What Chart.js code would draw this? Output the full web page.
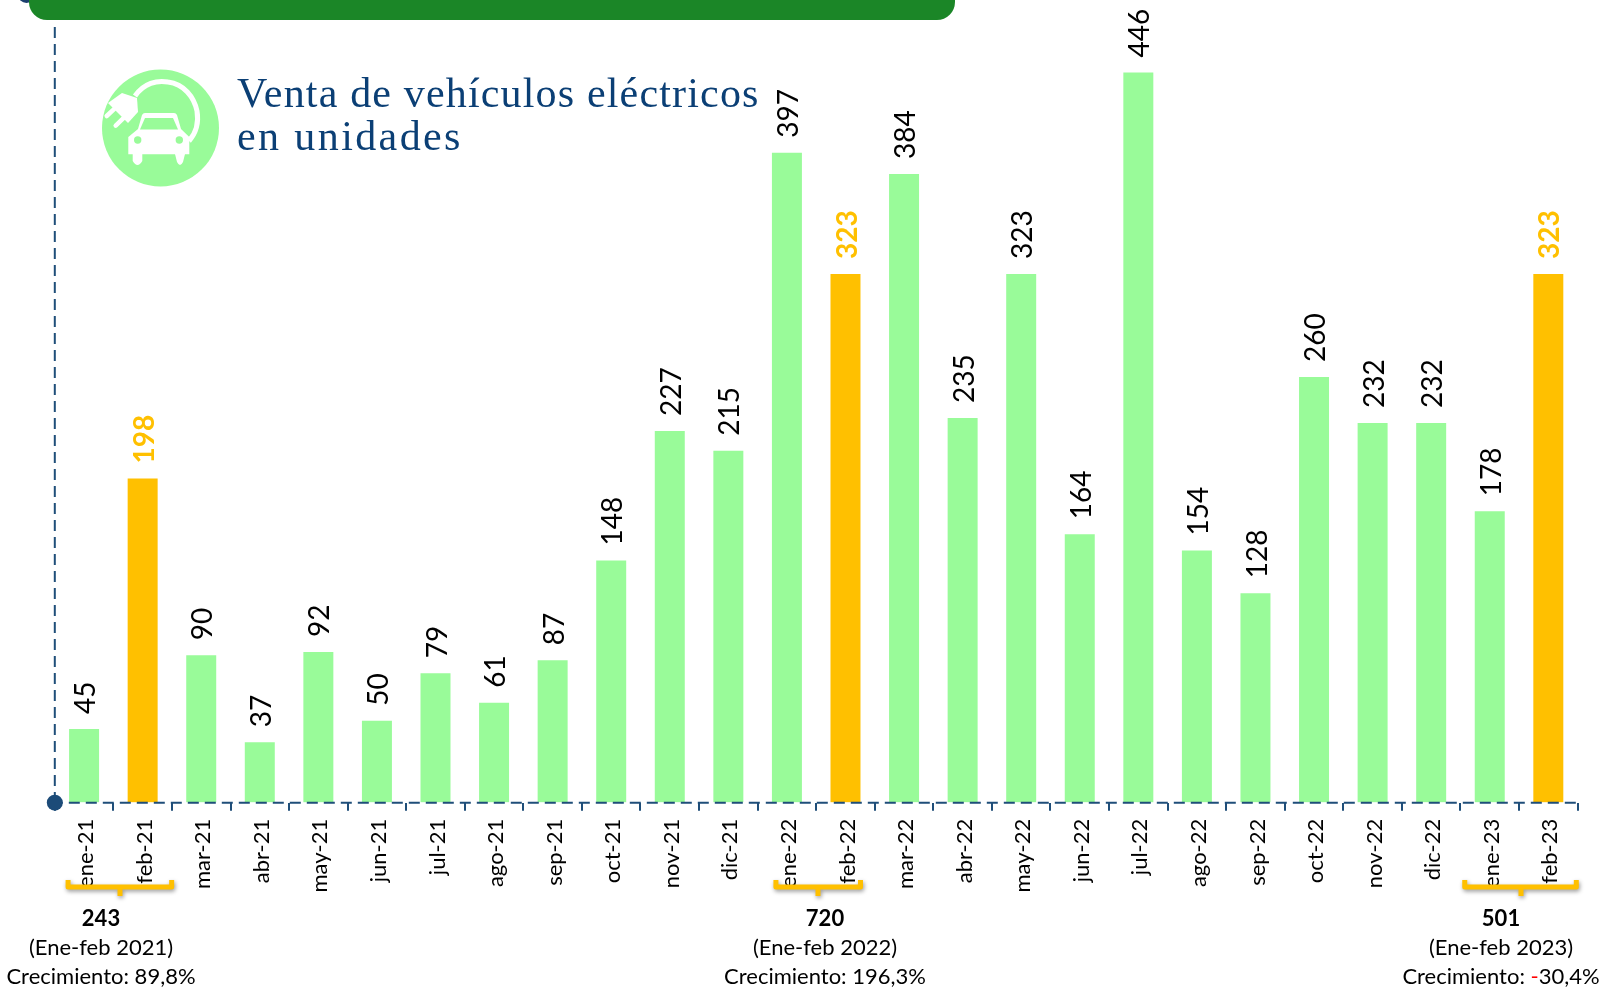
<!DOCTYPE html>
<html lang="es">
<head>
<meta charset="utf-8">
<title>Venta de vehículos eléctricos</title>
<script src="https://cdn.jsdelivr.net/npm/chart.js@4"></script>
<style>
    body { margin: 0; background: #fff; }
    #wrap { position: relative; width: 1602px; height: 987px; overflow: hidden; }
    #punto { position: absolute; left: 18px; top: -14px; width: 17px; height: 17px; border-radius: 50%; background: #1c3f6e; }
    #banner { position: absolute; left: 29px; top: -20px; width: 926px; height: 40px; background: #1b8627; border-radius: 0 0 18px 18px; }
    #title { position: absolute; left: 237px; top: 71.5px; font: 42px/43px "Liberation Serif", serif; color: #0b3f75; letter-spacing: 1.17px; white-space: nowrap; }
    #title span { letter-spacing: 2.4px; }
    #icon { position: absolute; left: 102px; top: 69px; }
</style>
</head>
<body>
<div id="wrap">
    <canvas id="sales-chart" width="1602" height="987"></canvas>
    <div id="punto"></div>
    <div id="banner"></div>
    <svg id="icon" width="118" height="118" viewBox="0 0 118 118">
        <circle cx="58.5" cy="59" r="58.5" fill="#99fb99"/>
        <path d="M33 27 C42 14 55 11 66 13 C82 15 92 28 95 42 C97 54 94 64 87 72" fill="none" stroke="#fff" stroke-width="5"/>
        <path d="M6 34 L20 24 L35 29 L36 43 L26 54 Z" fill="#fff"/>
        <path d="M14.7 37.7 L4.7 47 M23 47.7 L13.7 56.7" stroke="#fff" stroke-width="4.5" stroke-linecap="round"/>
        <path d="M36 60 L40 46 Q41 44 43 44 L72 44 Q74 44 75 46 L79 60 L87.3 68 L87.3 85.3 L26.3 85.3 L26.3 68 Z" fill="#fff"/>
        <path d="M38 60.5 L43 49 L71 49 L76 60.5 Z" fill="#99fb99"/>
        <circle cx="35.7" cy="71" r="3.7" fill="#99fb99"/>
        <circle cx="77.3" cy="71" r="3.7" fill="#99fb99"/>
        <path d="M30.7 85 L40.3 85 L40.3 92 Q35.5 100 30.7 92 Z M73 85 L83 85 L81 93 Q78 99 75 93 Z" fill="#fff"/>
    </svg>
    <div id="title">Venta de vehículos eléctricos<br><span>en unidades</span></div>
</div>
<script>
// Datos
const meses = ['ene-21', 'feb-21', 'mar-21', 'abr-21', 'may-21', 'jun-21', 'jul-21', 'ago-21', 'sep-21', 'oct-21', 'nov-21', 'dic-21',
    'ene-22', 'feb-22', 'mar-22', 'abr-22', 'may-22', 'jun-22', 'jul-22', 'ago-22', 'sep-22', 'oct-22', 'nov-22', 'dic-22',
    'ene-23', 'feb-23'];
const ventas = [45, 198, 90, 37, 92, 50, 79, 61, 87, 148, 227, 215, 397, 323, 384, 235, 323, 164, 446, 154, 128, 260, 232, 232, 178, 323];

// Resumen ene-feb de cada año
const totales = ['243', '720', '501'];
const periodos = ['(Ene-feb 2021)', '(Ene-feb 2022)', '(Ene-feb 2023)'];
const crecimientos = ['89,8%', '196,3%', '-30,4%'];

const VERDE = '#99fb99';
const NARANJA = '#ffc000';
const AZUL = '#1f4e79';
const LETRA = 'Lato, sans-serif';

function esFebrero(i) {
    return meses[i].startsWith('feb');
}

// Etiquetas de valor giradas sobre cada barra
const etiquetasValor = {
    id: 'etiquetasValor',
    afterDatasetsDraw(chart) {
        const ctx = chart.ctx;
        chart.getDatasetMeta(0).data.forEach((barra, i) => {
            ctx.save();
            ctx.translate(barra.x + 2, barra.y - 15);
            ctx.rotate(-Math.PI / 2);
            ctx.textAlign = 'left';
            ctx.textBaseline = 'middle';
            ctx.font = (esFebrero(i) ? 'bold ' : '') + '28px ' + LETRA;
            ctx.fillStyle = esFebrero(i) ? NARANJA : '#000';
            ctx.fillText(ventas[i], 0, 0);
            ctx.restore();
        });
    }
};

// Ejes a trazos: border.dash de Chart.js no afecta a la linea del eje
const ejesTrazos = {
    id: 'ejesTrazos',
    afterDatasetsDraw(chart) {
        const ctx = chart.ctx;
        const x = chart.scales.x;
        const base = chart.chartArea.bottom;
        ctx.save();
        ctx.strokeStyle = AZUL;
        ctx.lineWidth = 2;
        ctx.setLineDash([11, 6]);
        ctx.lineDashOffset = 3;
        ctx.beginPath();
        ctx.moveTo(x.left, base);
        ctx.lineTo(x.right, base);
        ctx.stroke();
        ctx.lineDashOffset = 0;
        ctx.beginPath();
        ctx.moveTo(x.left, 27);
        ctx.lineTo(x.left, base);
        ctx.stroke();
        ctx.restore();
    }
};

// Punto al inicio del eje, llaves y resumen de abajo
const resumen = {
    id: 'resumen',
    afterDraw(chart) {
        const ctx = chart.ctx;
        const x = chart.scales.x;
        const base = chart.chartArea.bottom;

        ctx.beginPath();
        ctx.arc(x.left, base, 8, 0, Math.PI * 2);
        ctx.fillStyle = '#1c4b78';
        ctx.fill();

        // llaves: ene y feb de cada año
        const llaves = [
            [x.getPixelForValue(0) - 16, x.getPixelForValue(1) + 29, 120, 101],
            [x.getPixelForValue(12) - 11, x.getPixelForValue(13) + 15, 818, 825],
            [x.getPixelForValue(24) - 25, x.getPixelForValue(25) + 28, 1521, 1501]
        ];
        llaves.forEach((ll, i) => {
            const [x1, x2, medio, texto] = ll;
            ctx.save();
            ctx.shadowColor = 'rgba(0,0,0,0.4)';
            ctx.shadowBlur = 4;
            ctx.shadowOffsetX = 1;
            ctx.shadowOffsetY = 2;
            ctx.strokeStyle = NARANJA;
            ctx.lineWidth = 5;
            ctx.lineJoin = 'round';
            ctx.beginPath();
            ctx.moveTo(x1, 880);
            ctx.lineTo(x1, 887);
            ctx.lineTo(x2, 887);
            ctx.lineTo(x2, 880);
            ctx.moveTo(medio, 887);
            ctx.lineTo(medio, 896);
            ctx.stroke();
            ctx.restore();

            ctx.textAlign = 'center';
            ctx.textBaseline = 'middle';
            ctx.fillStyle = '#000';
            ctx.font = 'bold 22px ' + LETRA;
            ctx.fillText(totales[i], texto, 919);
            ctx.font = '22px ' + LETRA;
            ctx.fillText(periodos[i], texto, 948);

            // el signo menos va en rojo
            const valor = crecimientos[i];
            const prefijo = 'Crecimiento: ';
            const ancho = ctx.measureText(prefijo + valor).width;
            let cx = texto - ancho / 2;
            ctx.textAlign = 'left';
            ctx.fillText(prefijo, cx, 977);
            cx += ctx.measureText(prefijo).width;
            if (valor.startsWith('-')) {
                ctx.fillStyle = '#ff0000';
                ctx.fillText('-', cx, 977);
                cx += ctx.measureText('-').width;
                ctx.fillStyle = '#000';
                ctx.fillText(valor.slice(1), cx, 977);
            } else {
                ctx.fillText(valor, cx, 977);
            }
        });
    }
};

const ctx = document.getElementById('sales-chart').getContext('2d');
new Chart(ctx, {
    type: 'bar',
    data: {
        labels: meses,
        datasets: [{
            data: ventas,
            backgroundColor: meses.map((m, i) => esFebrero(i) ? NARANJA : VERDE),
            barPercentage: 0.512,
            categoryPercentage: 1
        }]
    },
    plugins: [etiquetasValor, ejesTrazos, resumen],
    options: {
        responsive: false,
        animation: false,
        layout: { padding: { left: 54.8, right: 24.4 } },
        plugins: { legend: { display: false }, tooltip: { enabled: false } },
        scales: {
            x: {
                afterFit(scale) { scale.height = 184.3; },
                grid: { drawOnChartArea: false, color: AZUL, lineWidth: 2, tickLength: 8 },
                border: { display: false },
                ticks: {
                    autoSkip: false,
                    minRotation: 90,
                    maxRotation: 90,
                    padding: 8,
                    labelOffset: 2,
                    color: '#000',
                    font: { family: LETRA, size: 22 }
                }
            },
            y: {
                min: 0,
                max: 490.3,
                afterFit(scale) { scale.width = 0; },
                grid: { drawOnChartArea: false, drawTicks: false },
                border: { display: false },
                ticks: { display: false }
            }
        }
    }
});
</script>
</body>
</html>
